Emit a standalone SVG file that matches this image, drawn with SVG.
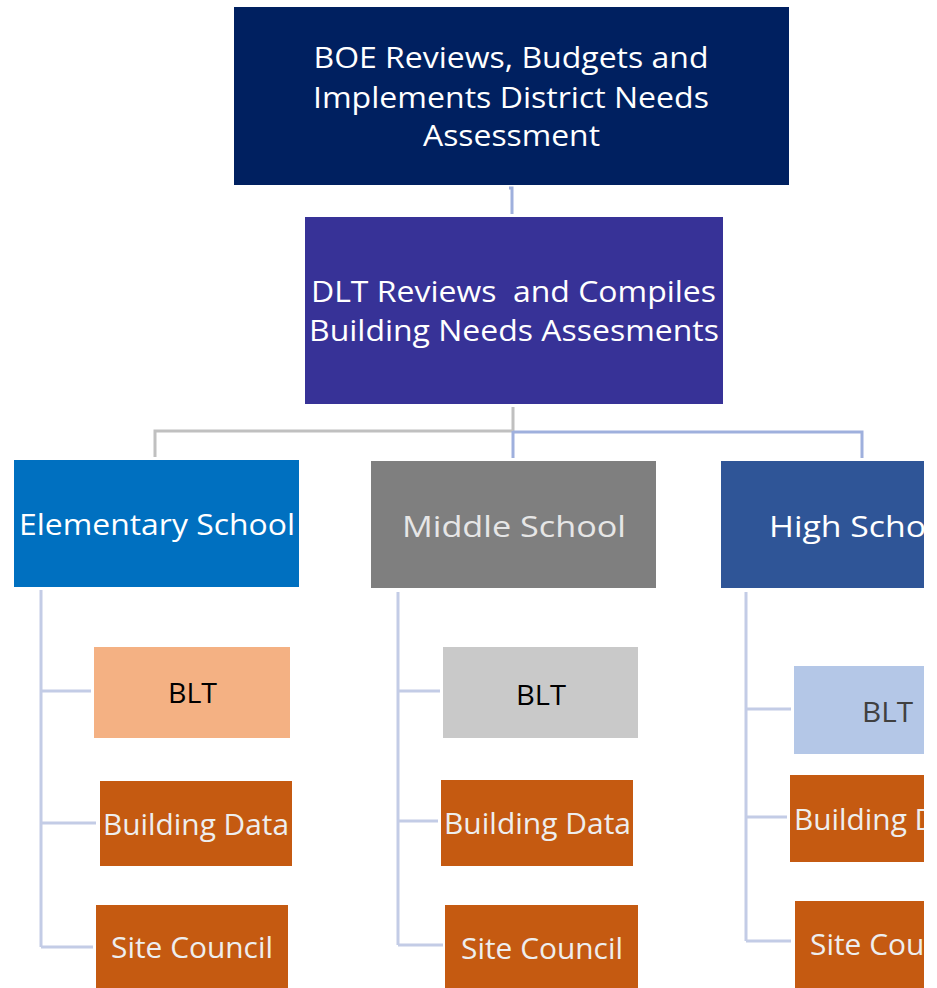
<svg xmlns="http://www.w3.org/2000/svg" width="937" height="988" viewBox="0 0 937 988">
<style>
.t{font-family:"Open Sans","Liberation Sans",sans-serif;text-anchor:middle}
.w{fill:#ffffff}
.lw{fill:#eeeeee}
.c{fill:none;stroke-width:3}
.g{stroke:#c0c0c0}
.b{stroke:#9fb0dd}
.s{stroke:#c3cce6}
.od{fill:#c55a11}
</style>
<defs>
<clipPath id="clip"><rect x="0" y="0" width="924" height="988"/></clipPath>
</defs>
<rect width="937" height="988" fill="#ffffff"/>
<g id="connectors">
<path class="c b" d="M509 188 H512 V214" stroke-width="2"/>
<path class="c g" d="M513 407 V431 H155 V457"/>
<path class="c b" d="M513 431 V458 M513 432 H862 V458"/>
<path class="c s" d="M41 590 V947 M41 691 H91 M41 823 H96 M41 947 H93"/>
<path class="c s" d="M398 592 V945 M398 691 H440 M398 821 H438 M398 945 H443"/>
<path class="c s" d="M746 592 V941 M746 709 H791 M746 817 H787 M746 941 H791"/>
</g>
<g id="boe">
<rect x="234" y="7" width="555" height="178" fill="#002060"/>
<text class="t w" font-size="30" lengthAdjust="spacingAndGlyphs"><tspan x="511" y="68" textLength="395" lengthAdjust="spacingAndGlyphs">BOE Reviews, Budgets and</tspan></text>
<text class="t w" font-size="30"><tspan x="511" y="108" textLength="396" lengthAdjust="spacingAndGlyphs">Implements District Needs</tspan></text>
<text class="t w" font-size="30"><tspan x="511.5" y="146" textLength="177" lengthAdjust="spacingAndGlyphs">Assessment</tspan></text>
</g>
<g id="dlt">
<rect x="305" y="217" width="418" height="187" fill="#373297"/>
<text class="t w" font-size="30" xml:space="preserve"><tspan x="513.5" y="302" textLength="405" lengthAdjust="spacingAndGlyphs">DLT Reviews  and Compiles</tspan></text>
<text class="t w" font-size="30"><tspan x="514" y="341" textLength="410" lengthAdjust="spacingAndGlyphs">Building Needs Assesments</tspan></text>
</g>
<g id="elementary">
<rect x="14" y="460" width="285" height="127" fill="#0070c0"/>
<text class="t w" x="157" y="535" font-size="30" textLength="276" lengthAdjust="spacingAndGlyphs">Elementary School</text>
</g>
<g id="middle">
<rect x="371" y="461" width="285" height="127" fill="#7f7f7f"/>
<text class="t" x="514" y="537" font-size="30" fill="#e6e6e6" textLength="224" lengthAdjust="spacingAndGlyphs">Middle School</text>
</g>
<g clip-path="url(#clip)">
<g id="high">
<rect x="721" y="461" width="285" height="127" fill="#2f5597"/>
<text class="t w" x="862" y="537" font-size="30" textLength="186" lengthAdjust="spacingAndGlyphs">High School</text>
</g>
<g id="high-blt">
<rect x="794" y="666" width="195" height="88" fill="#b4c7e7"/>
<text class="t" x="887.5" y="722" font-size="28" fill="#404040" textLength="51" lengthAdjust="spacingAndGlyphs">BLT</text>
</g>
<g id="high-data">
<rect x="790" y="775" width="192" height="87" class="od"/>
<text class="t lw" x="887" y="830" font-size="29" textLength="186" lengthAdjust="spacingAndGlyphs">Building Data</text>
</g>
<g id="high-site">
<rect x="795" y="901" width="192" height="87" class="od"/>
<text class="t lw" x="891" y="955" font-size="29" textLength="162" lengthAdjust="spacingAndGlyphs">Site Council</text>
</g>
</g>
<g id="elem-blt">
<rect x="94" y="647" width="196" height="91" fill="#f4b183"/>
<text class="t" x="192.5" y="703" font-size="28" fill="#000000" textLength="49" lengthAdjust="spacingAndGlyphs">BLT</text>
</g>
<g id="elem-data">
<rect x="100" y="781" width="192" height="85" class="od"/>
<text class="t lw" x="196" y="835" font-size="29" textLength="186" lengthAdjust="spacingAndGlyphs">Building Data</text>
</g>
<g id="elem-site">
<rect x="96" y="905" width="192" height="83" class="od"/>
<text class="t lw" x="192" y="958" font-size="29" textLength="162" lengthAdjust="spacingAndGlyphs">Site Council</text>
</g>
<g id="mid-blt">
<rect x="443" y="647" width="195" height="91" fill="#c9c9c9"/>
<text class="t" x="541" y="705" font-size="28" fill="#000000" textLength="50" lengthAdjust="spacingAndGlyphs">BLT</text>
</g>
<g id="mid-data">
<rect x="441" y="780" width="192" height="86" class="od"/>
<text class="t lw" x="537.5" y="834" font-size="29" textLength="187" lengthAdjust="spacingAndGlyphs">Building Data</text>
</g>
<g id="mid-site">
<rect x="445" y="905" width="193" height="83" class="od"/>
<text class="t lw" x="542" y="959" font-size="29" textLength="162" lengthAdjust="spacingAndGlyphs">Site Council</text>
</g>
</svg>
